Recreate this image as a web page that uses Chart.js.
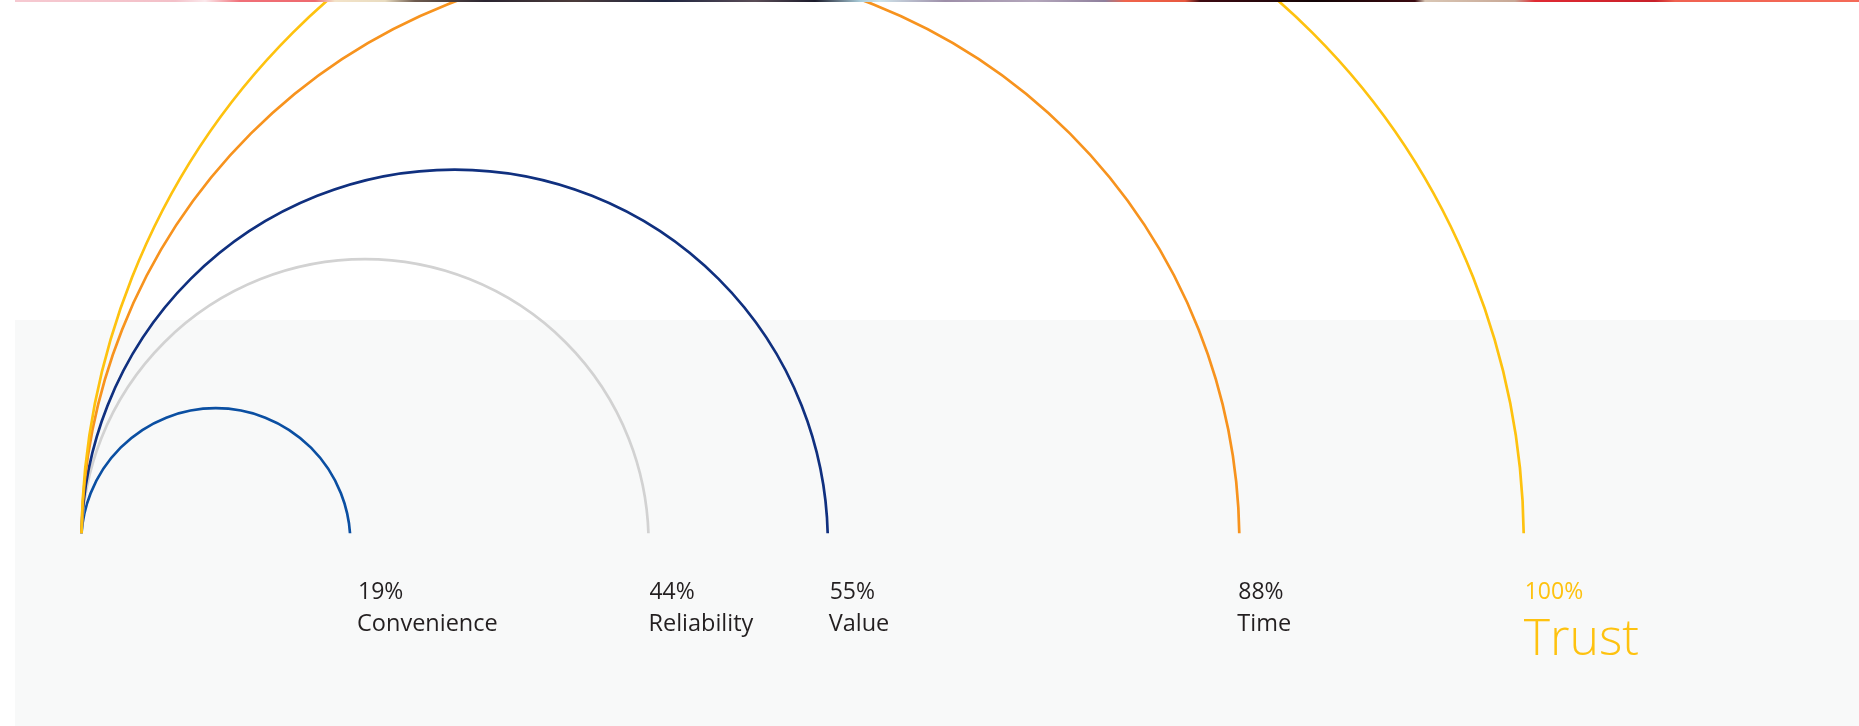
<!DOCTYPE html>
<html>
<head>
<meta charset="utf-8">
<script src="https://cdn.jsdelivr.net/npm/chart.js@4.4.1/dist/chart.umd.min.js"></script>
<style>
  html, body { margin: 0; padding: 0; background: #ffffff; }
  #wrap { position: relative; width: 1859px; height: 726px; overflow: hidden; }
  #panel { position: absolute; left: 15px; top: 320px; right: 0; bottom: 0; background: #f8f9f9; }
  #strip { position: absolute; left: 15px; top: 0; right: 0; height: 2px; z-index: 3;
    background: linear-gradient(to right,
      #f6c9d1 0px, #f3c0c8 160px, #fbe9ec 190px, #f06f78 225px, #ee6a6e 300px,
      #f3e3c8 320px, #e9dcc0 370px, #6d5a4e 400px, #2a2430 470px, #4b3b3a 560px,
      #1e2540 650px, #5a4c56 740px, #1a1a2a 800px, #a9cbd8 845px, #cfe3ea 865px,
      #9d8ea8 930px, #b3a6bb 1020px, #8e7f9c 1090px, #f0644c 1110px, #e8583f 1170px,
      #3e0a12 1185px, #120406 1300px, #3a0a10 1400px, #d9c6b4 1410px, #c8a896 1500px,
      #e02a33 1520px, #c8202a 1640px, #f06251 1660px, #f46a58 1844px); }
  #chartBox { position: absolute; left: 0; top: 0; width: 1859px; height: 726px; z-index: 2; }
</style>
</head>
<body>
<div id="wrap">
  <div id="panel"></div>
  <div id="strip"></div>
  <div id="chartBox"><canvas id="c"></canvas></div>
</div>
<script>
// ---- data ----
const categories    = ['Convenience', 'Reliability', 'Value', 'Time', 'Trust'];
const percentLabels = ['19%', '44%', '55%', '88%', '100%'];
const percentValues = [19, 44, 55, 88, 100];
// where each arc comes back down to the baseline, on the x axis (0 = common start, 100 = Trust)
const arcReach      = [18.62, 39.31, 51.74, 80.28, 100];
// the arcs are circles whose centres sit slightly below the baseline (y axis units)
const arcCentreY    = [-0.66, -0.66, -0.66, -0.66, -0.66];

// ---- styles ----
const arcColors  = ['#0b4fa2', '#d2d2d2', '#10307f', '#f7931e', '#fec20f'];
const labelNudge = [8, 1, 2, -1, 1];
const darkText   = '#231f20';

const labelPlugin = {
  id: 'arcLabels',
  afterDatasetsDraw(chart) {
    const {ctx, chartArea} = chart;
    const xs = chart.scales.x;
    ctx.save();
    ctx.textBaseline = 'alphabetic';
    ctx.textAlign = 'left';
    categories.forEach((name, i) => {
      const x = xs.getPixelForValue(arcReach[i]) + labelNudge[i];
      const isLast = i === categories.length - 1;
      ctx.fillStyle = isLast ? arcColors[i] : darkText;
      ctx.font = '400 23px "Open Sans", "Noto Sans", sans-serif';
      ctx.fillText(percentLabels[i], x, chartArea.bottom + 66);
      if (isLast) {
        ctx.font = '300 50px "Open Sans", "Noto Sans", sans-serif';
        ctx.fillText(name, x - 1, chartArea.bottom + 122);
      } else {
        ctx.font = '400 23.5px "Open Sans", "Noto Sans", sans-serif';
        ctx.fillText(name, x - 1, chartArea.bottom + 98);
      }
    });
    ctx.restore();
  }
};

const arcData = arcReach.map((r, i) => ({ x: r / 2, y: arcCentreY[i] }));

function arcRadius(ctx) {
  const c = ctx.chart;
  const xs = c.scales.x, ys = c.scales.y;
  const i = ctx.dataIndex;
  if (!xs || !ys || i === undefined) return 0;
  const half = xs.getPixelForValue(arcReach[i]) - xs.getPixelForValue(arcReach[i] / 2);
  const drop = ys.getPixelForValue(arcCentreY[i]) - ys.getPixelForValue(0);
  const r = Math.hypot(half, drop);
  return isFinite(r) ? r : 0;
}

new Chart(document.getElementById('c'), {
  type: 'scatter',
  data: {
    datasets: [{
      label: 'Drivers',
      data: arcData,
      showLine: false,
      pointStyle: 'circle',
      pointBackgroundColor: 'rgba(0,0,0,0)',
      pointBorderColor: ctx => arcColors[ctx.dataIndex],
      pointBorderWidth: 2.7,
      pointHoverBorderWidth: 2.7,
      pointRadius: arcRadius,
      pointHoverRadius: arcRadius,
      clip: { left: false, top: false, right: false, bottom: 0 }
    }]
  },
  options: {
    responsive: true,
    maintainAspectRatio: false,
    animation: false,
    events: [],
    layout: { padding: { left: 81.5, right: 335.3, top: 0, bottom: 192.7 } },
    scales: {
      x: { type: 'linear', min: 0, max: 100, display: false },
      y: { type: 'linear', min: 0, max: 36.98, display: false }
    },
    plugins: {
      legend: { display: false },
      tooltip: { enabled: false },
      title: { display: false }
    }
  },
  plugins: [labelPlugin]
});
</script>
</body>
</html>
